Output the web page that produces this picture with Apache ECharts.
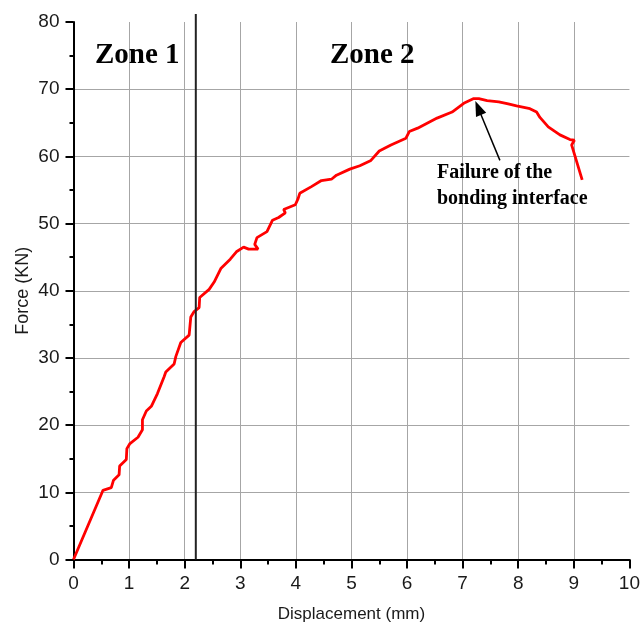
<!DOCTYPE html>
<html>
<head>
<meta charset="utf-8">
<script src="https://cdn.jsdelivr.net/npm/echarts@6/dist/echarts.min.js"></script>
<style>
html,body{margin:0;padding:0;background:#fff;}
#chart{width:643px;height:628px;}
</style>
</head>
<body>
<div id="chart"></div>
<script>
// displacement (mm) / force (kN)
var displacement=[0,0.51,0.53,0.68,0.72,0.82,0.83,0.95,0.96,1.01,1.16,1.24,1.24,1.31,1.40,1.51,1.63,1.66,1.81,1.84,
	1.93,2.08,2.11,2.17,2.26,2.27,2.44,2.53,2.65,2.82,2.93,3.06,3.15,3.32,3.26,3.30,3.48,3.58,3.69,3.81,
	3.78,3.99,4.04,4.07,4.28,4.46,4.64,4.73,4.97,5.15,5.35,5.50,5.71,5.98,6.04,6.19,6.54,6.81,7.02,7.20,
	7.29,7.44,7.65,7.82,7.97,8.21,8.33,8.39,8.54,8.75,8.93,9.01,8.96,9.15];
var force=[0,9.9,10.3,10.7,11.8,12.6,13.9,14.9,16.5,17.2,18.2,19.3,20.8,22.1,22.8,24.7,27.2,27.9,29.1,30.2,
	32.3,33.4,36.1,36.9,37.5,39.0,40.2,41.3,43.3,44.7,45.8,46.5,46.2,46.2,46.9,47.9,48.8,50.5,50.9,51.6,
	52.1,52.8,53.7,54.5,55.5,56.4,56.6,57.2,58.1,58.6,59.4,60.8,61.7,62.7,63.7,64.2,65.7,66.6,67.9,68.6,
	68.6,68.3,68.1,67.8,67.5,67.1,66.6,65.8,64.4,63.2,62.5,62.4,61.7,56.5];
var xTicks=[0,10,1];
var yTicks=[0,80,10];
var zoneBoundary=2.2;
var zoneLabels=['Zone 1','Zone 2'];
var arrowFrom=[7.67,59.4];
var arrowTo=[7.28,67.2];
var failureText='Failure of the\nbonding interface';

var points=displacement.map(function(x,i){ return [x,force[i]]; });

var myChart=echarts.init(document.getElementById('chart'));
var textColor='#1a1a1a';
var sans='Liberation Sans, Arial';
var serif='Liberation Serif, Times New Roman';

var option={
	animation:false,
	grid:{left:73.5,right:10,top:22,bottom:68.5},
	xAxis:{
		type:'value',min:xTicks[0],max:xTicks[1],interval:xTicks[2],
		name:'Displacement (mm)',nameLocation:'middle',nameGap:46,nameMoveOverlap:false,
		nameTextStyle:{color:textColor,fontFamily:sans,fontSize:17},
		axisLine:{show:true,onZero:false,lineStyle:{color:'#000',width:2}},
		axisTick:{show:true,length:9,lineStyle:{color:'#000',width:2}},
		minorTick:{show:true,splitNumber:2,length:5,lineStyle:{color:'#000',width:2}},
		axisLabel:{margin:15,color:textColor,fontFamily:sans,fontSize:19},
		splitLine:{show:true,showMaxLine:false,showMinLine:false,lineStyle:{color:'#a6a6a6',width:1}}
	},
	yAxis:{
		type:'value',min:yTicks[0],max:yTicks[1],interval:yTicks[2],
		name:'Force (KN)',nameLocation:'middle',nameGap:41,nameMoveOverlap:false,
		nameTextStyle:{color:textColor,fontFamily:sans,fontSize:18},
		axisLine:{show:true,onZero:false,lineStyle:{color:'#000',width:2}},
		axisTick:{show:true,length:8,lineStyle:{color:'#000',width:2}},
		minorTick:{show:true,splitNumber:2,length:4,lineStyle:{color:'#000',width:2}},
		axisLabel:{margin:14,color:textColor,fontFamily:sans,fontSize:19},
		splitLine:{show:true,showMaxLine:false,showMinLine:false,lineStyle:{color:'#a6a6a6',width:1}}
	},
	series:[{
		type:'line',
		data:points,
		showSymbol:false,
		lineStyle:{color:'#ff0000',width:2.8},
		z:5,
		markLine:{
			silent:true,
			symbol:['none','triangle'],
			symbolSize:[11,15],
			label:{show:false},
			lineStyle:{color:'#000',width:1.5,type:'solid'},
			itemStyle:{color:'#000'},
			data:[[{coord:arrowFrom},{coord:arrowTo}]]
		}
	}]
};
myChart.setOption(option);

// zone boundary line (runs slightly above the plot top) and the text notes
var bottomPt=myChart.convertToPixel({gridIndex:0},[zoneBoundary,yTicks[0]]);
var topPt=myChart.convertToPixel({gridIndex:0},[zoneBoundary,yTicks[1]]);
myChart.setOption({
	graphic:[
		{type:'line',z:10,shape:{x1:bottomPt[0],y1:bottomPt[1],x2:topPt[0],y2:topPt[1]-8},
			style:{stroke:'#222',lineWidth:2}},
		{type:'text',left:95,top:41,style:{text:zoneLabels[0],fill:'#000',
			font:'bold 29px '+serif}},
		{type:'text',left:330,top:41,style:{text:zoneLabels[1],fill:'#000',
			font:'bold 29px '+serif}},
		{type:'text',left:437,top:160,style:{text:failureText,fill:'#000',
			font:'bold 20px '+serif,lineHeight:26}}
	]
});
</script>
</body>
</html>
